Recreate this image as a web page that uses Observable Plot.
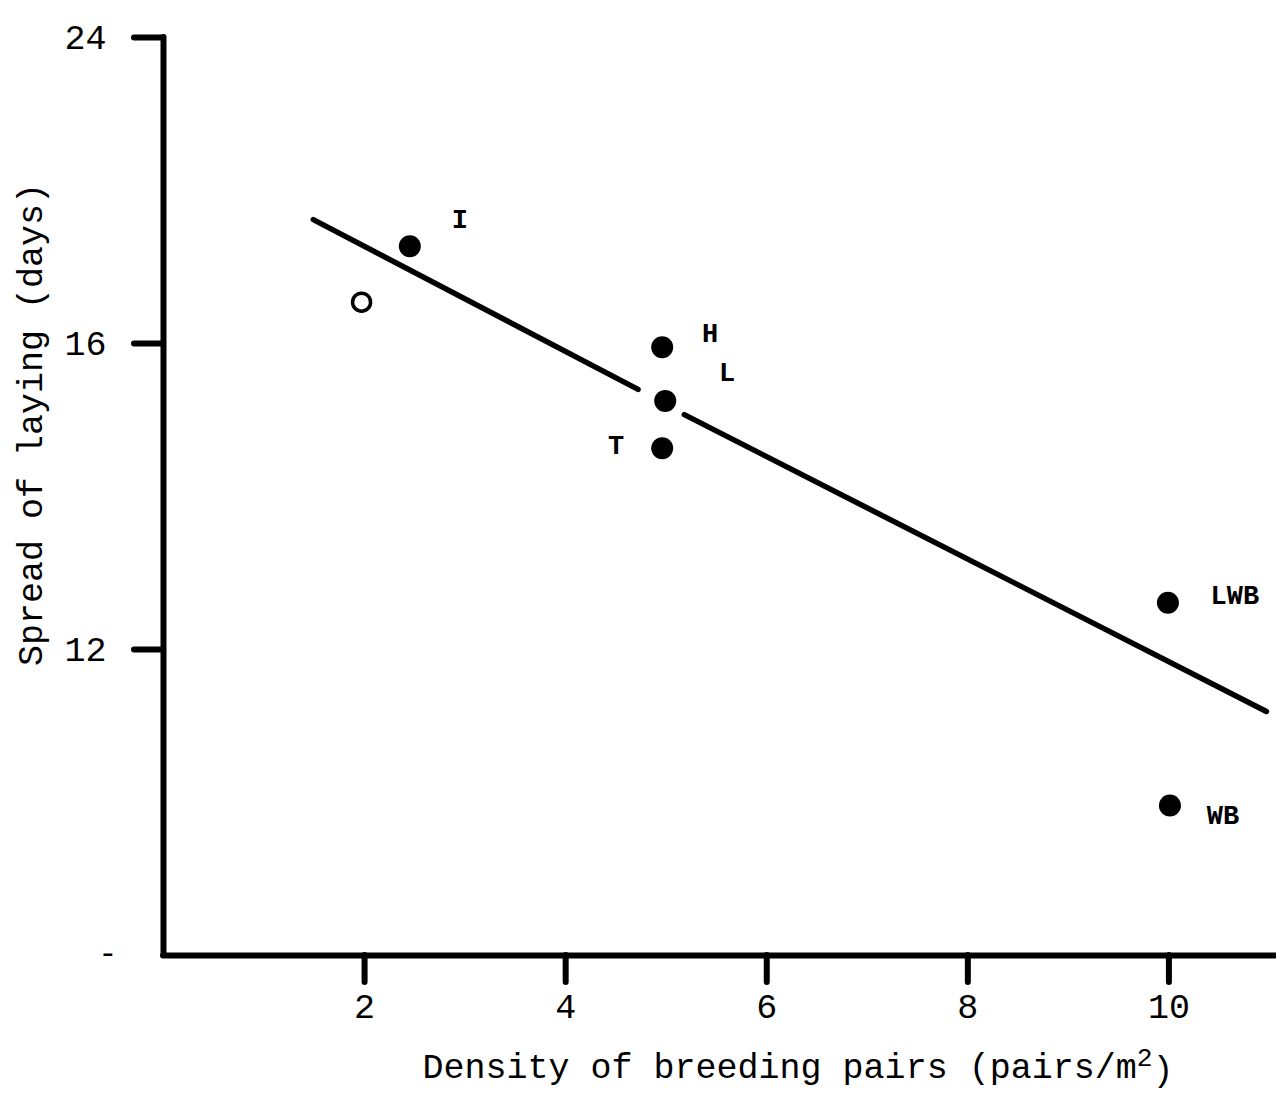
<!DOCTYPE html>
<html>
<head>
<meta charset="utf-8">
<script src="https://cdn.jsdelivr.net/npm/d3@7"></script>
<script src="https://cdn.jsdelivr.net/npm/@observablehq/plot@0.6"></script>
<style>
  html, body { margin: 0; padding: 0; background: #fff; }
  #chart svg { display: block; }
</style>
</head>
<body>
<div id="chart"></div>
<script>
// ---- data ----
const sites    = ["I", "O", "H", "L", "T", "LWB", "WB"];
const density  = [2.45, 1.97, 4.96, 4.99, 4.96, 9.99, 10.01];   // pairs/m²
const spread   = [17.27, 16.54, 15.95, 15.25, 14.63, 12.61, 9.96]; // days
const isFilled = [true, false, true, true, true, true, true];
const siteLabels = ["I", "", "H", "L", "T", "LWB", "WB"];

// regression line, drawn in two pieces (broken around the central points)
const fitStartX = [1.49, 5.18];
const fitStartY = [17.62, 15.07];
const fitEndX   = [4.72, 10.97];
const fitEndY   = [15.40, 11.19];

const xTicks = [2, 4, 6, 8, 10];
const yTicks = [12, 16, 20];
const yTickLabels = ["12", "16", "24"];
const xTitle = "Density of breeding pairs (pairs/m2)";
const yTitle = "Spread of laying (days)";

// ---- styling (label offsets in pixels) ----
const labelOffsets = {
  I: [50, -27], H: [48, -14], L: [62, -29], T: [-46, -3], LWB: [67, -7], WB: [53, 10]
};

const points = sites.map((s, i) => ({site: s, x: density[i], y: spread[i], filled: isFilled[i], label: siteLabels[i]}));
const fit = fitStartX.map((_, i) => ({x1: fitStartX[i], y1: fitStartY[i], x2: fitEndX[i], y2: fitEndY[i]}));
const yLabelOf = new Map(yTicks.map((t, i) => [t, yTickLabels[i]]));

const font = "'Liberation Mono', 'DejaVu Sans Mono', monospace";
const ink = "#000";

const labelMarks = points.filter(d => d.label).map(d => Plot.text([d], {
  x: "x", y: "y", text: "label",
  dx: labelOffsets[d.site][0], dy: labelOffsets[d.site][1],
  fontSize: 27, fontWeight: "bold", fontFamily: font, fill: ink,
  textAnchor: "middle", lineAnchor: "middle"
}));

const chart = Plot.plot({
  width: 1276,
  height: 1098,
  marginLeft: 163,
  marginRight: 0,
  marginTop: 37,
  marginBottom: 143,
  style: {background: "#fff", fontFamily: font, color: ink, overflow: "visible"},
  x: {domain: [0, 11.07]},
  y: {domain: [8, 20]},
  marks: [
    // axis lines
    Plot.ruleX([0], {y1: 8, y2: 20, stroke: ink, strokeWidth: 6, strokeLinecap: "round"}),
    Plot.ruleY([8], {x1: 0, x2: 11.07, stroke: ink, strokeWidth: 6, strokeLinecap: "round"}),
    // axes
    Plot.axisY(yTicks, {
      tickSize: 29, tickPadding: 28, strokeWidth: 6, strokeLinecap: "round",
      tickFormat: d => yLabelOf.get(d), fontSize: 35, fontFamily: font, fill: ink, stroke: ink,
      label: null
    }),
    Plot.axisY([8], {
      tickSize: 0, tickPadding: 46, tickFormat: () => "-", fontSize: 32, fontFamily: font,
      fill: ink, label: null, dy: -3
    }),
    Plot.axisX(xTicks, {
      tickSize: 27, tickPadding: 11, strokeWidth: 6, strokeLinecap: "round",
      fontSize: 35, fontFamily: font, fill: ink, stroke: ink, label: null
    }),
    // titles
    Plot.text([yTitle], {frameAnchor: "left", rotate: -90, dx: -133, dy: -72,
      fontSize: 35, fontFamily: font, fill: ink, textAnchor: "middle"}),
    Plot.text([xTitle], {frameAnchor: "bottom", dx: 78, dy: 122,
      fontSize: 35, fontFamily: font, fill: ink, textAnchor: "middle", className: "xtitle"}),
    // fitted line
    Plot.link(fit, {x1: "x1", y1: "y1", x2: "x2", y2: "y2", stroke: ink, strokeWidth: 5.5, strokeLinecap: "round"}),
    // points
    Plot.dot(points.filter(d => d.filled), {x: "x", y: "y", r: 11, fill: ink, stroke: "none"}),
    Plot.dot(points.filter(d => !d.filled), {x: "x", y: "y", r: 9, fill: "#fff", stroke: ink, strokeWidth: 3.5}),
    ...labelMarks
  ]
});

document.getElementById("chart").appendChild(chart);

// render the "2" of m2 as a superscript (still real text)
d3.select(chart).selectAll(".xtitle text").each(function () {
  const t = d3.select(this);
  const s = t.text();
  const k = s.lastIndexOf("m2");
  if (k < 0) return;
  t.text(null);
  t.append("tspan").text(s.slice(0, k + 1));
  t.append("tspan").attr("dy", "-0.45em").attr("font-size", "0.75em").text("2");
  t.append("tspan").attr("dy", "0.45em").text(s.slice(k + 2));
});
</script>
</body>
</html>
